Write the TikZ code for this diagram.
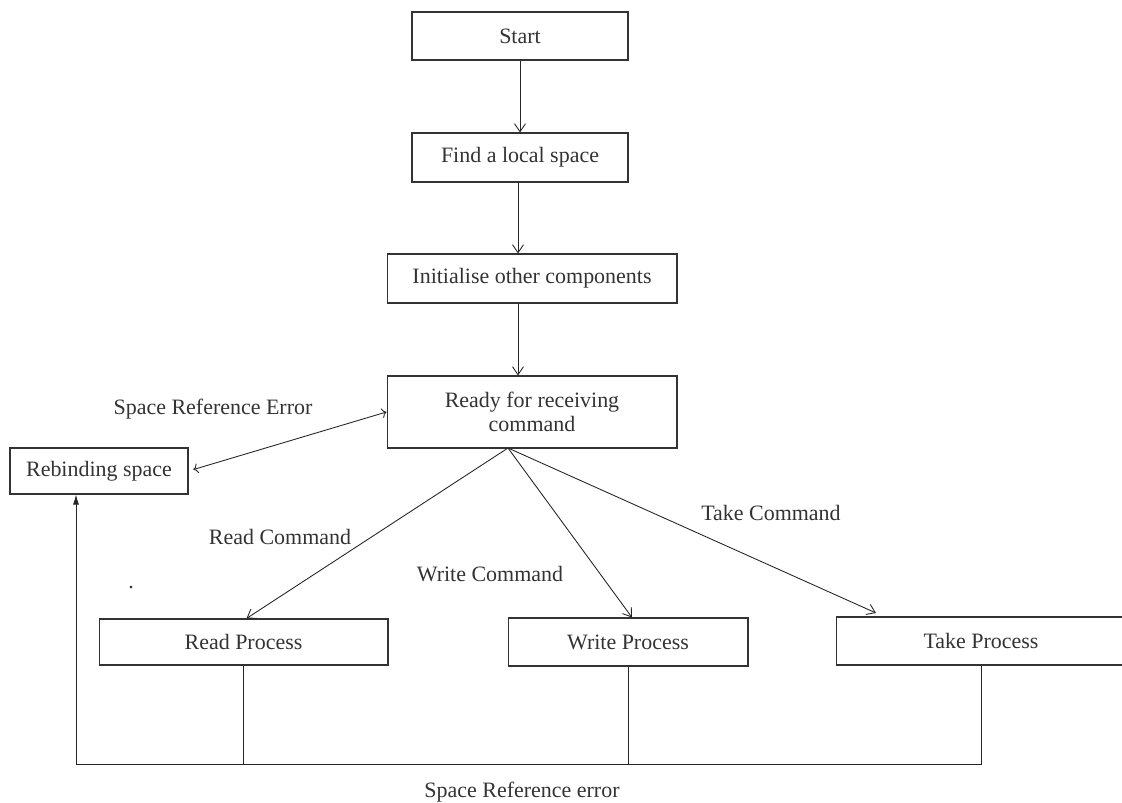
\documentclass[tikz,border=0pt]{standalone}
\usepackage{fontspec}
\setmainfont{Liberation Serif}
\usetikzlibrary{arrows.meta}
\begin{document}
\begin{tikzpicture}[x=0.02cm,y=-0.02cm,font=\fontsize{12.5}{14}\selectfont,text=black!80]
      \tikzstyle{box} = [draw=black!80, line width=0.6pt, inner sep=0pt, align=center]
      \tikzstyle{link} = [draw=black!85, line width=0.5pt]
      \tikzstyle{arr} = [link, -{Straight Barb[length=1.6mm,width=2.2mm]}]
      \useasboundingbox (0,0) rectangle (1122,803);
        \node[box, minimum width=4.32cm, minimum height=0.96cm] (start) at (520,36) {Start};
        \node[box, minimum width=4.32cm, minimum height=0.98cm] (find) at (520,157.5) {Find a local space};
        \node[box, minimum width=5.8cm, minimum height=0.98cm] (init) at (532,278.5) {Initialise other components};
        \node[box, minimum width=5.8cm, minimum height=1.44cm] (ready) at (532,412) {Ready for receiving\\command};
        \node[box, minimum width=3.56cm, minimum height=0.92cm] (rebind) at (99,471) {Rebinding space};
        \node[box, minimum width=5.78cm, minimum height=0.92cm] (read) at (243.5,642) {Read Process};
        \node[box, minimum width=4.8cm, minimum height=0.96cm] (write) at (628,642) {Write Process};
        \node[box, minimum width=5.8cm, minimum height=0.96cm] (take) at (981,641) {Take Process};
        \node (errtop) at (213,409) {Space Reference Error};
        \node (readcmd) at (280,537) {Read Command};
        \node (writecmd) at (490,574) {Write Command};
        \node (takecmd) at (771,513) {Take Command};
        \node (errbot) at (522,792) {Space Reference error};
        \node[anchor=base] (dot) at (131,588) {.};
        \coordinate (fork) at (508,448);
        \coordinate (takein) at (876,613);
        \coordinate (bus) at (76,764);
          \draw[arr] (start.south) -- (find.north);
          \draw[arr] ([xshift=-0.04cm]find.south) -- ([xshift=-0.04cm]find.south |- init.north);
          \draw[arr] ([xshift=-0.28cm]init.south) -- ([xshift=-0.28cm]ready.north);
          \draw[arr, <->, shorten <=0.1cm] (rebind.east) -- (ready.west);
          \draw[arr] (fork) -- ([xshift=0.06cm]read.north);
          \draw[arr] (fork) -- ([xshift=0.08cm]write.north);
          \draw[arr] (fork) -- (takein);
          \draw[link] (read.south) -- (read.south |- bus);
          \draw[link] (write.south) -- (write.south |- bus);
          \draw[link] (take.south) |- (bus);
          \draw[link, -{Latex[length=2mm,width=1.2mm]}] (bus) -- (bus |- rebind.south);
        \end{tikzpicture}
\end{document}
